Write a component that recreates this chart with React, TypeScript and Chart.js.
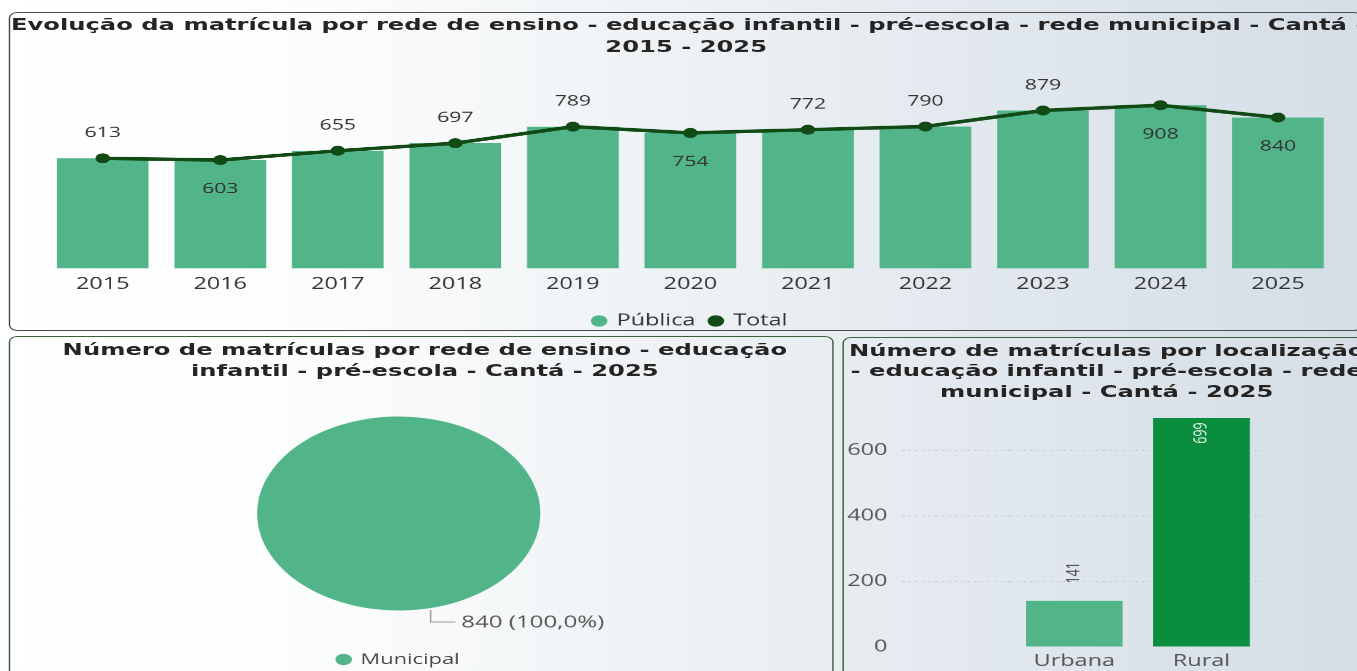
import React, { useEffect, useRef } from 'react';
import { Chart, registerables } from 'chart.js';

Chart.register(...registerables);

// The reference screenshot is stretched horizontally; the layout is built
// in an unstretched space and scaled by this factor.
const STRETCH = 1.46;
const FONT = "'Open Sans', 'Noto Sans', sans-serif";
const TITLE_FONT = "'DejaVu Sans', 'Open Sans', sans-serif";

// ---- Chart 1: Evolução da matrícula ----
const years = ['2015', '2016', '2017', '2018', '2019', '2020', '2021', '2022', '2023', '2024', '2025'];
const publica = [613, 603, 655, 697, 789, 754, 772, 790, 879, 908, 840];
const total = [613, 603, 655, 697, 789, 754, 772, 790, 879, 908, 840];
const labelSide = ['above', 'below', 'above', 'above', 'above', 'below', 'above', 'above', 'above', 'below', 'below'];

// ---- Chart 2: por rede de ensino ----
const redeLabels = ['Municipal'];
const redeValues = [840];

// ---- Chart 3: por localização ----
const locLabels = ['Urbana', 'Rural'];
const locValues = [141, 699];
const locTicks = [0, 200, 400, 600];

const GREEN = '#52b58a';
const DARK = '#124a16';
const RURAL = '#0b8d3e';
const TEXT = '#252423';

const topLabelPlugin = {
  id: 'topLabels',
  afterDatasetsDraw(chart: any) {
    const ctx = chart.ctx;
    const meta = chart.getDatasetMeta(1);
    ctx.save();
    ctx.font = `14.5px ${FONT}`;
    ctx.fillStyle = '#333';
    ctx.textAlign = 'center';
    ctx.textBaseline = 'middle';
    meta.data.forEach((pt: any, i: number) => {
      const above = labelSide[i] === 'above';
      const v = above ? total[i] : publica[i];
      ctx.fillText(String(v), pt.x, above ? pt.y - 25 : pt.y + 29);
    });
    ctx.restore();
  },
};

const pieLabelPlugin = {
  id: 'pieLabel',
  afterDatasetsDraw(chart: any) {
    const ctx = chart.ctx;
    const arc = chart.getDatasetMeta(0).data[0];
    if (!arc) return;
    const { x, y, startAngle, endAngle, outerRadius } = arc.getProps(['x', 'y', 'startAngle', 'endAngle', 'outerRadius'], true);
    const mid = (startAngle + endAngle) / 2;
    const px = x + Math.cos(mid) * outerRadius;
    const py = y + Math.sin(mid) * outerRadius;
    const sum = redeValues.reduce((a, b) => a + b, 0);
    const pct = ((redeValues[0] / sum) * 100).toFixed(1).replace('.', ',');
    ctx.save();
    ctx.strokeStyle = '#9a9a9a';
    ctx.lineWidth = 1;
    ctx.beginPath();
    ctx.moveTo(px, py + 2);
    ctx.lineTo(px, py + 14);
    ctx.lineTo(px + 17, py + 14);
    ctx.stroke();
    ctx.font = `16.5px ${FONT}`;
    ctx.fillStyle = '#555';
    ctx.textAlign = 'left';
    ctx.textBaseline = 'middle';
    ctx.fillText(`${redeValues[0]} (${pct}%)`, px + 21, py + 15);
    ctx.restore();
  },
};

const locLabelPlugin = {
  id: 'locLabels',
  afterDatasetsDraw(chart: any) {
    const ctx = chart.ctx;
    const meta = chart.getDatasetMeta(0);
    meta.data.forEach((bar: any, i: number) => {
      const { x, y, base } = bar.getProps(['x', 'y', 'base'], true);
      const inside = base - y > 60;
      ctx.save();
      ctx.translate(x, inside ? y + 15 : y - 28);
      ctx.rotate(-Math.PI / 2);
      ctx.font = `12.5px ${FONT}`;
      ctx.fillStyle = inside ? '#e6f4ea' : '#444';
      ctx.textAlign = 'center';
      ctx.textBaseline = 'middle';
      ctx.fillText(String(locValues[i]), 0, 0);
      ctx.restore();
    });
  },
};

const topConfig = (): any => ({
  type: 'bar',
  data: {
    labels: years,
    datasets: [
      {
        type: 'bar',
        label: 'Pública',
        data: publica,
        backgroundColor: GREEN,
        borderWidth: 0,
        barPercentage: 0.78,
        categoryPercentage: 1,
        order: 2,
      },
      {
        type: 'line',
        label: 'Total',
        data: total,
        borderColor: DARK,
        backgroundColor: DARK,
        pointBackgroundColor: DARK,
        pointBorderColor: DARK,
        pointRadius: 5,
        pointBorderWidth: 0,
        borderWidth: 3.5,
        tension: 0,
        order: 1,
      },
    ],
  },
  options: {
    animation: false,
    responsive: true,
    maintainAspectRatio: false,
    devicePixelRatio: 2,
    layout: { padding: { left: 30.1, right: 14.4, top: 10.7, bottom: 0 } },
    scales: {
      x: {
        grid: { display: false, drawTicks: false },
        border: { display: false },
        ticks: { color: '#333', font: { family: FONT, size: 16 }, padding: 6 },
      },
      y: { display: false, min: 0, max: 1100 },
    },
    plugins: {
      legend: {
        position: 'bottom',
        title: { display: true, text: '', padding: { top: 0, bottom: 2 }, font: { size: 1 } },
        labels: {
          usePointStyle: true,
          pointStyle: 'circle',
          boxWidth: 8,
          boxHeight: 8,
          padding: 10,
          color: '#333',
          font: { family: FONT, size: 16 },
          sort: (a: any, b: any) => a.datasetIndex - b.datasetIndex,
        },
      },
      tooltip: { enabled: false },
    },
  },
  plugins: [topLabelPlugin],
});

const pieConfig = (): any => ({
  type: 'pie',
  data: {
    labels: redeLabels,
    datasets: [{ data: redeValues, backgroundColor: [GREEN], borderWidth: 0 }],
  },
  options: {
    animation: false,
    responsive: true,
    maintainAspectRatio: false,
    devicePixelRatio: 2,
    radius: 97,
    rotation: -13,
    layout: { padding: { left: 0, right: 30.8, top: 0, bottom: 0 } },
    plugins: {
      legend: {
        position: 'bottom',
        labels: {
          usePointStyle: true,
          pointStyle: 'circle',
          boxWidth: 8,
          boxHeight: 8,
          padding: 10,
          color: '#444',
          font: { family: FONT, size: 15 },
        },
      },
      tooltip: { enabled: false },
    },
  },
  plugins: [pieLabelPlugin],
});

const gridColor = (c: any) => (c.tick && c.tick.value === 0 ? 'rgba(0,0,0,0)' : '#c3c9ce');

const locConfig = (): any => ({
  type: 'bar',
  data: {
    labels: locLabels,
    datasets: [
      {
        data: locValues,
        backgroundColor: [GREEN, RURAL],
        borderWidth: 0,
        barPercentage: 0.76,
        categoryPercentage: 1,
      },
    ],
  },
  options: {
    animation: false,
    responsive: true,
    maintainAspectRatio: false,
    devicePixelRatio: 2,
    layout: { padding: { left: 0, right: 63.4, top: 10.6, bottom: 0 } },
    scales: {
      x: {
        grid: { display: false, drawTicks: false },
        border: { display: false },
        ticks: { color: '#555', font: { family: FONT, size: 16 }, padding: 5 },
      },
      y: {
        min: 0,
        max: 740,
        afterBuildTicks: (s: any) => {
          s.ticks = locTicks.map((v) => ({ value: v }));
        },
        afterFit: (s: any) => {
          s.width = 114.1;
        },
        grid: {
          color: gridColor,
          tickColor: gridColor,
          tickLength: 74.3,
          tickBorderDash: [1.5, 3],
          lineWidth: 1,
        },
        border: { display: false, dash: [1.5, 3] },
        ticks: { color: '#555', font: { family: FONT, size: 16 }, padding: 10 },
      },
    },
    plugins: { legend: { display: false }, tooltip: { enabled: false } },
  },
  plugins: [locLabelPlugin],
});

function ChartBox({ box, config }: { box: any; config: () => any }) {
  const ref = useRef<HTMLCanvasElement>(null);
  useEffect(() => {
    const chart = new Chart(ref.current as HTMLCanvasElement, config());
    return () => chart.destroy();
  }, []);
  return (
    <div style={{ position: 'absolute', ...box }}>
      <canvas ref={ref} />
    </div>
  );
}

const titleStyle: any = {
  position: 'absolute',
  textAlign: 'center',
  whiteSpace: 'nowrap',
  fontFamily: TITLE_FONT,
  fontWeight: 700,
  color: TEXT,
};

export default function App() {
  return (
    <div
      style={{
        position: 'fixed',
        left: 0,
        top: 0,
        width: 1357,
        height: 671,
        overflow: 'hidden',
        background:
          'linear-gradient(to right, #ffffff 0%, #fbfcfc 25%, #eef2f5 50%, #e0e7ed 75%, #d5dee6 100%)',
      }}
    >
      <div
        style={{
          position: 'absolute',
          left: 0,
          top: 0,
          width: 929.5,
          height: 671,
          overflow: 'hidden',
          transform: `scaleX(${STRETCH})`,
          transformOrigin: '0 0',
        }}
      >
        {/* panels */}
        <div style={{ position: 'absolute', left: 5.5, top: 12, width: 927, height: 319, border: '1.5px solid #4a4a4a', borderRadius: 6, boxSizing: 'border-box' }} />
        <div style={{ position: 'absolute', left: 5.5, top: 336, width: 565, height: 345, border: '1.5px solid #3d5f3d', borderRadius: 6, boxSizing: 'border-box' }} />
        <div style={{ position: 'absolute', left: 577, top: 337, width: 364, height: 345, border: '1.5px solid #3d5f3d', borderRadius: 6, boxSizing: 'border-box' }} />

        {/* titles */}
        <div style={{ ...titleStyle, left: 7.5, width: 925, top: 14, fontSize: 16.6, lineHeight: '22px' }}>
          <div>Evolução da matrícula por rede de ensino - educação infantil - pré-escola - rede municipal - Cantá -</div>
          <div>2015 - 2025</div>
        </div>
        <div style={{ ...titleStyle, left: 8.5, width: 565, top: 340, fontSize: 16.6, lineHeight: '20.5px' }}>
          <div>Número de matrículas por rede de ensino - educação</div>
          <div>infantil - pré-escola - Cantá - 2025</div>
        </div>
        <div style={{ ...titleStyle, left: 578, width: 360, top: 340.5, fontSize: 16.6, lineHeight: '20.5px' }}>
          <div>Número de matrículas por localização</div>
          <div>- educação infantil - pré-escola - rede</div>
          <div>municipal - Cantá - 2025</div>
        </div>

        {/* charts */}
        <ChartBox box={{ left: 0, top: 60, width: 929.5, height: 278.5 }} config={topConfig} />
        <ChartBox box={{ left: 5.5, top: 384.5, width: 565, height: 292 }} config={pieConfig} />
        <ChartBox box={{ left: 578, top: 385, width: 351.5, height: 291.2 }} config={locConfig} />
      </div>
    </div>
  );
}
